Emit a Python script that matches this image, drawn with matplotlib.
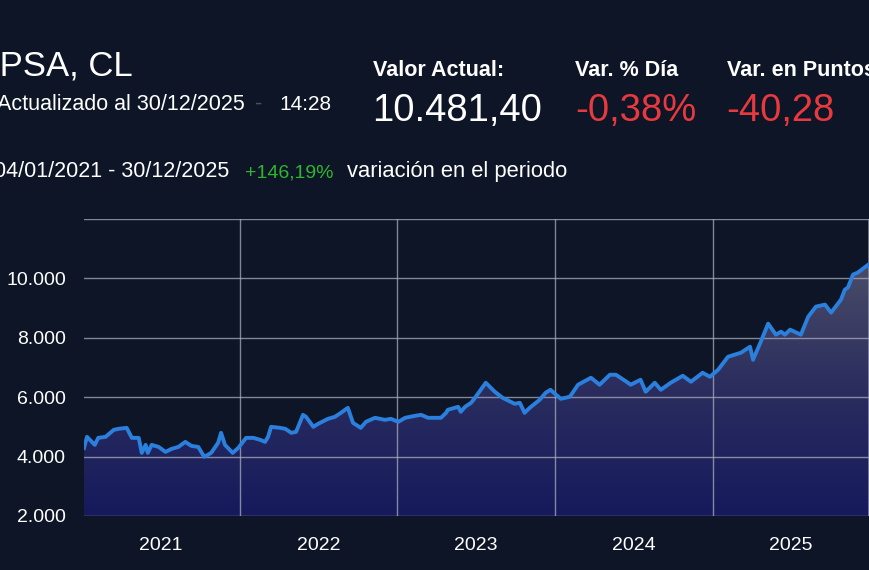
import numpy as np
import matplotlib
matplotlib.use('Agg')
import matplotlib.pyplot as plt
import matplotlib.dates as mdates
from matplotlib.colors import LinearSegmentedColormap
from matplotlib.ticker import FuncFormatter, FixedLocator

plt.rcParams['font.family'] = ['Liberation Sans', 'DejaVu Sans']

# IPSA cierre aproximado
fechas = ['2021-01-04', '2021-01-11', '2021-01-29', '2021-02-06', '2021-02-23', '2021-03-14',
          '2021-03-25', '2021-04-13', '2021-04-25', '2021-05-11', '2021-05-18', '2021-05-27',
          '2021-06-01', '2021-06-10', '2021-06-26', '2021-07-12', '2021-07-26', '2021-08-11',
          '2021-08-27', '2021-09-10', '2021-09-26', '2021-10-10', '2021-10-26', '2021-11-11',
          '2021-11-18', '2021-11-27', '2021-12-15', '2021-12-28',
          '2022-01-15', '2022-02-01', '2022-02-17', '2022-02-28', '2022-03-07', '2022-03-14',
          '2022-04-04', '2022-04-16', '2022-04-30', '2022-05-11', '2022-05-27', '2022-06-03',
          '2022-06-20', '2022-07-01', '2022-07-24', '2022-08-09', '2022-08-23', '2022-09-08',
          '2022-09-20', '2022-10-08', '2022-10-20', '2022-11-10', '2022-12-03', '2022-12-17',
          '2023-01-03', '2023-01-19', '2023-02-11', '2023-02-25', '2023-03-13', '2023-04-06',
          '2023-04-12', '2023-04-24', '2023-04-28', '2023-05-22', '2023-05-28', '2023-06-07',
          '2023-06-21', '2023-06-30', '2023-07-25', '2023-08-15', '2023-09-02', '2023-09-30',
          '2023-10-12', '2023-10-23', '2023-11-04', '2023-11-27', '2023-12-11', '2023-12-22',
          '2024-01-15', '2024-02-05', '2024-02-24', '2024-03-25', '2024-04-14', '2024-05-08',
          '2024-05-22', '2024-06-19', '2024-06-25', '2024-07-18', '2024-07-30', '2024-08-20',
          '2024-09-03', '2024-09-26', '2024-10-24', '2024-11-12', '2024-12-09', '2024-12-26',
          '2025-01-14', '2025-02-06', '2025-03-08', '2025-03-29', '2025-04-05', '2025-04-23',
          '2025-05-10', '2025-05-28', '2025-06-09', '2025-06-18', '2025-06-30', '2025-07-25',
          '2025-08-11', '2025-08-29', '2025-09-19', '2025-10-03', '2025-10-26', '2025-11-04',
          '2025-11-11', '2025-11-23', '2025-12-04', '2025-12-30']
valores = [4290, 4665, 4395, 4631, 4665, 4901,
           4935, 4968, 4631, 4631, 4125, 4395,
           4125, 4395, 4327, 4159, 4260, 4327,
           4496, 4361, 4327, 3990, 4125, 4462,
           4800, 4395, 4125, 4294,
           4631, 4631, 4563, 4496, 4665, 5002,
           4968, 4935, 4800, 4833, 5407, 5339,
           5002, 5103, 5272, 5339, 5474, 5643,
           5137, 4968, 5171, 5306, 5238, 5272,
           5171, 5306, 5373, 5407, 5306, 5306,
           5306, 5474, 5575, 5677, 5508, 5677,
           5811, 5980, 6486, 6183, 5980, 5778,
           5811, 5474, 5643, 5913, 6149, 6250,
           5946, 6014, 6419, 6655, 6419, 6756,
           6756, 6486, 6419, 6587, 6183, 6486,
           6250, 6486, 6722, 6520, 6823, 6688,
           6925, 7363, 7498, 7700, 7262, 7869,
           8476, 8105, 8206, 8105, 8274, 8105,
           8712, 9050, 9117, 8847, 9286, 9623,
           9690, 10129, 10196, 10481]
anios = ['2021', '2022', '2023', '2024', '2025']
y_ticks = [2000, 4000, 6000, 8000, 10000, 12000]

bg = '#0d1526'
fig = plt.figure(figsize=(8.7, 5.7), dpi=100, facecolor=bg)
W, H = 870, 570


def px(x, y):
    return x / W, 1 - y / H


ax = fig.add_axes([84 / W, (H - 516) / H, (869 - 84) / W, (516 - 219) / H])
ax.set_facecolor(bg)

x = mdates.date2num(np.array(fechas, dtype='datetime64[D]'))
v = np.array(valores, dtype=float)

# relleno con degradado bajo la linea
cmap = LinearSegmentedColormap.from_list('relleno', ['#161a5c', '#2a2d5e', '#4a4c68'])
grad = np.linspace(0, 1, 256).reshape(-1, 1)
im = ax.imshow(grad, extent=[x[0], x[-1], 2000, v.max()], origin='lower',
               aspect='auto', cmap=cmap, zorder=1, interpolation='bicubic')
poly = ax.fill_between(x, v, 2000, facecolor='none', edgecolor='none')
im.set_clip_path(poly.get_paths()[0], transform=ax.transData)

ax.plot(x, v, color='#2a80dc', lw=2.8, zorder=4, solid_joinstyle='round')

ax.set_xlim(x[0], x[-1])
ax.set_ylim(2000, 12000)

# cuadricula: lineas verticales en el cambio de anio
limites = mdates.date2num(np.array(['2022-01-01', '2023-01-01', '2024-01-01',
                                    '2025-01-01'], dtype='datetime64[D]'))
for b in limites:
    ax.axvline(b, color='#a8adbb', lw=1, alpha=0.75, zorder=3)
ax.axvline(x[-1], color='#a8adbb', lw=1.2, alpha=0.75, zorder=3)
for t in y_ticks:
    ax.axhline(t, color='#a8adbb', lw=1, alpha=0.75, zorder=3)

mitad = mdates.date2num(np.array([a + '-07-02' for a in anios], dtype='datetime64[D]'))
ax.xaxis.set_major_locator(FixedLocator(mitad))
ax.set_xticklabels(anios)
ax.yaxis.set_major_locator(FixedLocator(y_ticks))
ax.yaxis.set_major_formatter(FuncFormatter(
    lambda val, _: '' if val >= 12000 else f'{val:,.0f}'.replace(',', '.')))
ax.tick_params(axis='both', length=0, colors='white', labelsize=14)
ax.tick_params(axis='x', pad=15)
ax.tick_params(axis='y', pad=13)
for s in ax.spines.values():
    s.set_visible(False)

# cabecera
fig.text(*px(-10, 76), 'IPSA, CL', color='white', fontsize=25, va='baseline')
fig.text(*px(-3, 110), 'Actualizado al 30/12/2025', color='white', fontsize=15.5, va='baseline')
fig.text(*px(255, 110), '-', color='#4a5060', fontsize=15.5, va='baseline')
fig.text(*px(279, 110), '14:28', color='white', fontsize=15, va='baseline')

fig.text(*px(373, 76), 'Valor Actual:', color='white', fontsize=15.5,
         fontweight='bold', va='baseline')
fig.text(*px(575, 76), 'Var. % Día', color='white', fontsize=15.5,
         fontweight='bold', va='baseline')
fig.text(*px(727, 76), 'Var. en Puntos', color='white', fontsize=15.5,
         fontweight='bold', va='baseline')
fig.text(*px(372, 121), '10.481,40', color='white', fontsize=27.5, va='baseline')
fig.text(*px(575, 121), '-0,38%', color='#e8393f', fontsize=27.5, va='baseline')
fig.text(*px(726, 121), '-40,28', color='#e8393f', fontsize=27.5, va='baseline')

fig.text(*px(-6, 177), '04/01/2021 - 30/12/2025', color='white', fontsize=15.5, va='baseline')
fig.text(*px(245, 177), '+146,19%', color='#2fb62f', fontsize=14, va='baseline')
fig.text(*px(347, 177), 'variación en el periodo', color='white', fontsize=15.8, va='baseline')

fig.savefig('out.png', dpi=100, facecolor=bg)
